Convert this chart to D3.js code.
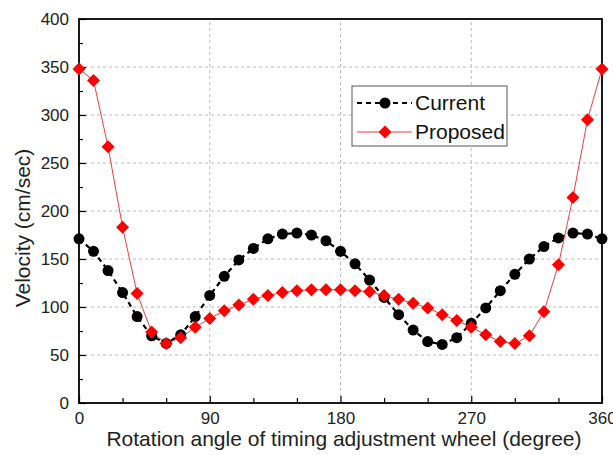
<!DOCTYPE html>
<html>
<head>
<meta charset="utf-8">
<script src="https://cdn.jsdelivr.net/npm/d3@7"></script>
<style>
  body { margin: 0; background: #fff; }
  svg { font-family: "Liberation Sans", Arial, sans-serif; }
</style>
</head>
<body>
<div id="chart"></div>
<script>
// angles every 10 degrees
const angles = d3.range(0, 361, 10);
const current = [171, 158, 138, 115, 90, 70, 62, 71, 90, 112, 132, 149, 161, 171, 176, 177,
  175, 169, 158, 145, 128, 110, 92, 76, 64, 61, 68, 83, 99, 117, 134, 150, 163, 172, 177, 176, 171];
const proposed = [348, 336, 267, 183, 114, 74, 62, 68, 79, 88, 96, 102, 108, 112, 115, 117,
  118, 118, 118, 117, 116, 112, 108, 104, 99, 92, 86, 79, 71, 64, 62, 70, 95, 144, 214, 295, 348];
const xTicks = [0, 90, 180, 270, 360];
const yTicks = [0, 50, 100, 150, 200, 250, 300, 350, 400];

const width = 613;
const height = 455;
const margin = { top: 19, right: 11, bottom: 52, left: 79 };

const svg = d3.select('#chart').append('svg')
  .attr('width', width)
  .attr('height', height);

const x = d3.scaleLinear().domain([0, 360]).range([margin.left, width - margin.right]);
const y = d3.scaleLinear().domain([0, 400]).range([height - margin.bottom, margin.top]);

// grid
svg.append('g').selectAll('line.gx')
  .data(xTicks.slice(1, -1))
  .join('line')
  .attr('x1', d => x(d)).attr('x2', d => x(d))
  .attr('y1', y(0)).attr('y2', y(400))
  .attr('stroke', '#bbb').attr('stroke-width', 1).attr('stroke-dasharray', '3,3');
svg.append('g').selectAll('line.gy')
  .data(yTicks.slice(1, -1))
  .join('line')
  .attr('x1', x(0)).attr('x2', x(360))
  .attr('y1', d => y(d)).attr('y2', d => y(d))
  .attr('stroke', '#bbb').attr('stroke-width', 1).attr('stroke-dasharray', '3,3');

// axes with inward ticks
const xAxis = d3.axisBottom(x).tickValues(d3.range(0, 361, 30)).tickSize(-7).tickPadding(9)
  .tickFormat(d => (d % 90 === 0 ? d : ''));
const gx = svg.append('g').attr('transform', `translate(0,${y(0)})`).call(xAxis);
const yAxis = d3.axisLeft(y).tickValues(d3.range(0, 401, 25)).tickSize(-7).tickPadding(10)
  .tickFormat(d => (d % 50 === 0 ? d : ''));
const gy = svg.append('g').attr('transform', `translate(${x(0)},0)`).call(yAxis);
[gx, gy].forEach(g => {
  g.select('.domain').remove();
  g.selectAll('.tick line').attr('stroke', '#000').attr('stroke-width', 1.2);
  g.selectAll('.tick text').attr('font-size', 17).attr('fill', '#222')
    .attr('font-family', '"Liberation Sans", Arial, sans-serif');
});
gy.selectAll('.tick').filter(d => d % 50 !== 0).select('line').attr('x2', 4);
gx.selectAll('.tick').filter(d => d % 90 !== 0).select('line').attr('y2', -5);

// frame
svg.append('rect')
  .attr('x', x(0)).attr('y', y(400))
  .attr('width', x(360) - x(0)).attr('height', y(0) - y(400))
  .attr('fill', 'none').attr('stroke', '#000').attr('stroke-width', 1.8);

// series
const line = d3.line().x((d, i) => x(angles[i])).y(d => y(d));
svg.append('path').datum(current).attr('d', line)
  .attr('fill', 'none').attr('stroke', '#000').attr('stroke-width', 2.2).attr('stroke-dasharray', '5,4');
svg.append('path').datum(proposed).attr('d', line)
  .attr('fill', 'none').attr('stroke', '#e8403a').attr('stroke-width', 1);

const diamond = d3.symbol().type(d3.symbolSquare).size(85);
svg.append('g').selectAll('circle')
  .data(current)
  .join('circle')
  .attr('cx', (d, i) => x(angles[i])).attr('cy', d => y(d))
  .attr('r', 5.5).attr('fill', '#000');
svg.append('g').selectAll('path')
  .data(proposed)
  .join('path')
  .attr('d', diamond)
  .attr('transform', (d, i) => `translate(${x(angles[i])},${y(d)}) rotate(45)`)
  .attr('fill', '#f00');

// legend
const lg = svg.append('g').attr('transform', 'translate(352,86)');
lg.append('rect').attr('width', 155).attr('height', 60)
  .attr('fill', '#fff').attr('stroke', '#555').attr('stroke-width', 1);
lg.append('line').attr('x1', 5).attr('x2', 60).attr('y1', 17).attr('y2', 17)
  .attr('stroke', '#000').attr('stroke-width', 2.2).attr('stroke-dasharray', '5,4');
lg.append('circle').attr('cx', 33).attr('cy', 17).attr('r', 5.5).attr('fill', '#000');
lg.append('line').attr('x1', 5).attr('x2', 60).attr('y1', 46).attr('y2', 46)
  .attr('stroke', '#e8403a').attr('stroke-width', 1);
lg.append('path').attr('d', diamond).attr('transform', 'translate(33,46) rotate(45)').attr('fill', '#f00');
lg.append('text').attr('x', 63).attr('y', 24).attr('font-size', 21).attr('fill', '#111').text('Current');
lg.append('text').attr('x', 63).attr('y', 53).attr('font-size', 21).attr('fill', '#111').text('Proposed');

// axis titles
svg.append('text')
  .attr('x', 344).attr('y', 446)
  .attr('text-anchor', 'middle').attr('font-size', 21).attr('fill', '#222')
  .text('Rotation angle of timing adjustment wheel (degree)');
svg.append('text')
  .attr('transform', 'translate(30,228) rotate(-90)')
  .attr('text-anchor', 'middle').attr('font-size', 21).attr('fill', '#222')
  .text('Velocity (cm/sec)');
</script>
</body>
</html>
